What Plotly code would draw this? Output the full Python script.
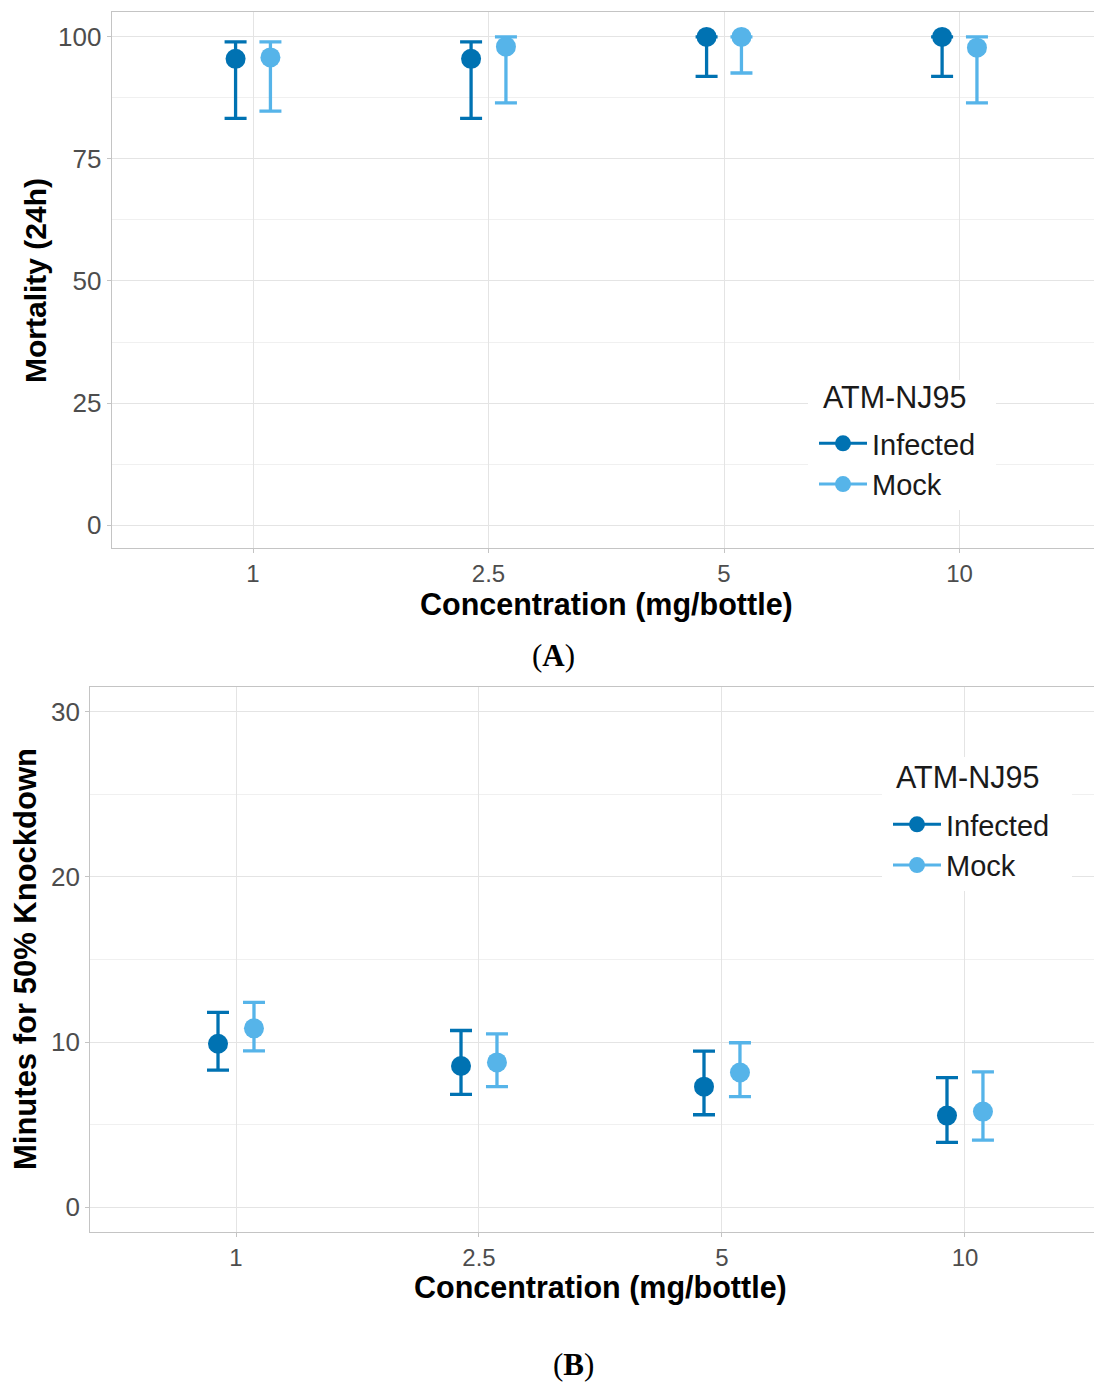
import plotly.graph_objects as go

# ---------------- data ----------------
concentrations = ["1", "2.5", "5", "10"]
groups = ["Infected", "Mock"]

# Panel A: Mortality (24h)
mort_infected = [95.5, 95.5, 100.0, 100.0]
mort_infected_lo = [83.3, 83.3, 91.9, 91.9]
mort_infected_hi = [99.0, 99.0, 100.0, 100.0]
mort_mock = [95.8, 98.0, 100.0, 97.8]
mort_mock_lo = [84.8, 86.5, 92.6, 86.5]
mort_mock_hi = [99.0, 100.0, 100.0, 100.0]

# Panel B: Minutes for 50% Knockdown
kd_infected = [9.9, 8.55, 7.3, 5.55]
kd_infected_lo = [8.3, 6.83, 5.6, 3.93]
kd_infected_hi = [11.8, 10.7, 9.45, 7.85]
kd_mock = [10.83, 8.77, 8.16, 5.79]
kd_mock_lo = [9.47, 7.3, 6.7, 4.06]
kd_mock_hi = [12.4, 10.5, 9.96, 8.2]

# ---------------- style ----------------
COL = {"Infected": "#0072B2", "Mock": "#56B4E9"}
DODGE = 0.074
FONT = "Liberation Sans, Arial, sans-serif"
SERIF = "Liberation Serif, Times New Roman, serif"
W, H = 1094, 1384


def px(x):
    return x / W


def py(y):
    return 1 - y / H


fig = go.Figure()


def add_series(name, vals, lo, hi, sign, xa, ya, legend):
    xs = [i + sign * DODGE for i in range(len(concentrations))]
    fig.add_trace(go.Scatter(
        x=xs, y=vals, mode="markers", name=name, showlegend=False,
        xaxis=xa, yaxis=ya,
        marker=dict(color=COL[name], size=20),
        error_y=dict(type="data", symmetric=False,
                     array=[h - v for h, v in zip(hi, vals)],
                     arrayminus=[v - l for v, l in zip(vals, lo)],
                     color=COL[name], thickness=3.3, width=11),
    ))
    fig.add_trace(go.Scatter(
        x=[None], y=[None], mode="lines+markers", name=name,
        xaxis=xa, yaxis=ya, legend=legend, showlegend=True,
        marker=dict(color=COL[name], size=16),
        line=dict(color=COL[name], width=3),
    ))


add_series("Infected", mort_infected, mort_infected_lo, mort_infected_hi, -1, "x", "y", "legend")
add_series("Mock", mort_mock, mort_mock_lo, mort_mock_hi, 1, "x", "y", "legend")
add_series("Infected", kd_infected, kd_infected_lo, kd_infected_hi, -1, "x2", "y2", "legend2")
add_series("Mock", kd_mock, kd_mock_lo, kd_mock_hi, 1, "x2", "y2", "legend2")

GRID = "#e4e4e4"
MINOR = "#f0f0f0"
LINE = "#c4c4c4"
TICKC = "#4d4d4d"

xcommon = dict(
    tickmode="array", tickvals=list(range(len(concentrations))),
    ticktext=concentrations, showgrid=True, gridcolor=GRID, gridwidth=1,
    zeroline=False, showline=True, mirror=True, linecolor=LINE, linewidth=1,
    ticks="outside", ticklen=4, tickcolor=LINE,
    tickfont=dict(family=FONT, size=24, color=TICKC),
)
ycommon = dict(
    showgrid=True, gridcolor=GRID, gridwidth=1, zeroline=False,
    showline=True, mirror=False, linecolor=LINE, linewidth=1,
    ticks="outside", ticklen=4, tickcolor=LINE,
    tickfont=dict(family=FONT, size=26, color=TICKC),
)

# panels continue past the right edge of the picture (cropped in reference)
xA0, yA0, yA1 = 111.7, 12, 548
xB0, yB0, yB1 = 90.2, 687, 1232

legend_common = dict(
    font=dict(family=FONT, size=29, color="#1a1a1a"),
    xanchor="left", yanchor="top", bgcolor="white", borderwidth=0,
    itemsizing="trace", itemwidth=48, tracegroupgap=0,
)

fig.update_layout(
    width=W, height=H, autosize=False,
    margin=dict(l=0, r=0, t=0, b=0),
    paper_bgcolor="white", plot_bgcolor="white",
    xaxis=dict(domain=[px(xA0), 1], anchor="y", range=[-0.6, 3.571], **xcommon),
    yaxis=dict(domain=[py(yA1), py(yA0)], anchor="x", range=[-4.7, 105.1],
               tickvals=[0, 25, 50, 75, 100],
               minor=dict(showgrid=True, gridcolor=MINOR, gridwidth=1,
                          tickvals=[12.5, 37.5, 62.5, 87.5], ticks=""),
               **ycommon),
    xaxis2=dict(domain=[px(xB0), 1], anchor="y2", range=[-0.6, 3.531], **xcommon),
    yaxis2=dict(domain=[py(yB1), py(yB0)], anchor="x2", range=[-1.5, 31.5],
                tickvals=[0, 10, 20, 30],
                minor=dict(showgrid=True, gridcolor=MINOR, gridwidth=1,
                           tickvals=[5, 15, 25], ticks=""),
                **ycommon),
    legend=dict(x=px(814), y=py(418), **legend_common),
    legend2=dict(x=px(888), y=py(799), **legend_common),
)

# legend boxes (white, covering grid lines like the reference)
fig.add_shape(type="rect", xref="paper", yref="paper",
              x0=px(808), x1=px(996), y0=py(510), y1=py(380),
              fillcolor="white", line=dict(width=0), layer="above")
fig.add_shape(type="rect", xref="paper", yref="paper",
              x0=px(882), x1=px(1072), y0=py(885), y1=py(757),
              fillcolor="white", line=dict(width=0), layer="above")

ann = [
    dict(text="<b>Concentration (mg/bottle)</b>", x=px(606), y=py(604),
         font=dict(family=FONT, size=30.5, color="black")),
    dict(text="<b>Mortality (24h)</b>", x=px(36), y=py(281), textangle=-90,
         font=dict(family=FONT, size=30, color="black")),
    dict(text="<b>Concentration (mg/bottle)</b>", x=px(600), y=py(1287),
         font=dict(family=FONT, size=30.5, color="black")),
    dict(text="<b>Minutes for 50% Knockdown</b>", x=px(25), y=py(959), textangle=-90,
         font=dict(family=FONT, size=31, color="black")),
    dict(text="ATM-NJ95", x=px(821), y=py(397), xanchor="left",
         font=dict(family=FONT, size=30.5, color="#1a1a1a")),
    dict(text="ATM-NJ95", x=px(894), y=py(777), xanchor="left",
         font=dict(family=FONT, size=30.5, color="#1a1a1a")),
    dict(text="(<b>A</b>)", x=px(553), y=py(655),
         font=dict(family=SERIF, size=31, color="black")),
    dict(text="(<b>B</b>)", x=px(573), y=py(1364),
         font=dict(family=SERIF, size=31, color="black")),
]
for a in ann:
    a.setdefault("xanchor", "center")
    fig.add_annotation(xref="paper", yref="paper", yanchor="middle",
                       showarrow=False, **a)

fig.write_html(
    "out.html",
    config={"displayModeBar": False},
    post_script="document.body.style.margin='0px';document.body.style.overflow='hidden';",
)
